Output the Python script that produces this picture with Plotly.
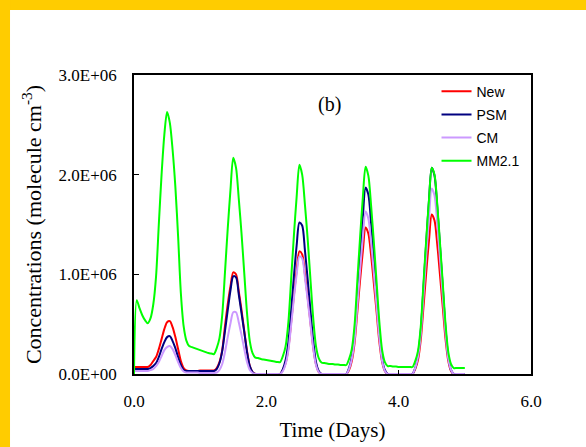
import plotly.graph_objects as go

# Time grid: hourly output over 5 days
hours = list(range(121))
time_days = [h / 24 for h in hours]

# Concentrations in units of 1e6 molecule cm-3
new_e6 = [
    0.07, 0.07, 0.07, 0.07, 0.07, 0.07, 0.09, 0.13, 0.17, 0.25, 0.35, 0.45, 0.52, 0.53, 0.47, 0.37, 0.25, 0.13, 0.06, 0.035, 0.03, 0.03, 0.03, 0.03,
    0.035, 0.035, 0.035, 0.035, 0.035, 0.035, 0.06, 0.12, 0.24, 0.48, 0.70, 0.88, 1.02, 1.00, 0.83, 0.64, 0.43, 0.23, 0.08, 0.02, 0, 0, 0, 0,
    0, 0, 0, 0, 0, 0, 0.04, 0.11, 0.26, 0.52, 0.79, 1.04, 1.23, 1.20, 1.00, 0.77, 0.52, 0.27, 0.10, 0.02, 0, 0, 0, 0,
    0, 0, 0, 0, 0, 0, 0.04, 0.13, 0.31, 0.62, 0.94, 1.23, 1.47, 1.41, 1.19, 0.91, 0.62, 0.32, 0.12, 0.03, 0, 0, 0, 0,
    0, 0, 0, 0, 0, 0, 0.05, 0.14, 0.34, 0.67, 1.02, 1.34, 1.60, 1.54, 1.30, 0.99, 0.67, 0.35, 0.13, 0.03, 0, 0, 0, 0, 0,
]
psm_e6 = [
    0.05, 0.05, 0.05, 0.05, 0.05, 0.05, 0.06, 0.08, 0.11, 0.17, 0.25, 0.32, 0.37, 0.38, 0.33, 0.26, 0.17, 0.09, 0.04, 0.03, 0.03, 0.03, 0.03, 0.03,
    0.03, 0.03, 0.03, 0.03, 0.03, 0.03, 0.05, 0.11, 0.23, 0.43, 0.64, 0.84, 0.98, 0.97, 0.80, 0.61, 0.42, 0.22, 0.08, 0.02, 0, 0, 0, 0,
    0, 0, 0, 0, 0, 0, 0.05, 0.14, 0.32, 0.64, 0.98, 1.29, 1.52, 1.49, 1.24, 0.95, 0.64, 0.34, 0.12, 0.03, 0, 0, 0, 0,
    0, 0, 0, 0, 0, 0, 0.06, 0.17, 0.39, 0.79, 1.20, 1.57, 1.87, 1.80, 1.51, 1.16, 0.79, 0.41, 0.15, 0.04, 0, 0, 0, 0,
    0, 0, 0, 0, 0, 0, 0.06, 0.19, 0.43, 0.87, 1.32, 1.74, 2.07, 1.99, 1.68, 1.28, 0.87, 0.46, 0.17, 0.04, 0, 0, 0, 0, 0,
]
cm_e6 = [
    0.03, 0.03, 0.03, 0.03, 0.03, 0.03, 0.04, 0.05, 0.08, 0.12, 0.18, 0.24, 0.27, 0.28, 0.25, 0.19, 0.12, 0.06, 0.025, 0.015, 0.015, 0.015, 0.015, 0.015,
    0.01, 0.01, 0.01, 0.01, 0.01, 0.01, 0.015, 0.04, 0.10, 0.22, 0.37, 0.51, 0.62, 0.62, 0.52, 0.39, 0.25, 0.12, 0.04, 0.01, 0, 0, 0, 0,
    0, 0, 0, 0, 0, 0, 0.03, 0.10, 0.24, 0.49, 0.76, 1.00, 1.18, 1.16, 0.97, 0.74, 0.50, 0.26, 0.09, 0.02, 0, 0, 0, 0,
    0, 0, 0, 0, 0, 0, 0.05, 0.15, 0.34, 0.68, 1.04, 1.37, 1.63, 1.56, 1.32, 1.01, 0.68, 0.36, 0.13, 0.03, 0, 0, 0, 0,
    0, 0, 0, 0, 0, 0, 0.06, 0.17, 0.39, 0.78, 1.19, 1.56, 1.86, 1.79, 1.51, 1.15, 0.78, 0.41, 0.15, 0.04, 0, 0, 0, 0, 0,
]
mm21_e6 = [
    0.0, 0.74, 0.66, 0.59, 0.54, 0.51, 0.56, 0.70, 0.98, 1.50, 2.00, 2.40, 2.63, 2.52, 2.25, 1.88, 1.38, 0.81, 0.48, 0.335, 0.28, 0.27, 0.26, 0.25,
    0.24, 0.23, 0.22, 0.21, 0.205, 0.20, 0.26, 0.36, 0.59, 1.02, 1.46, 1.85, 2.17, 2.07, 1.76, 1.41, 1.01, 0.61, 0.33, 0.21, 0.165, 0.16, 0.15, 0.145,
    0.14, 0.135, 0.13, 0.125, 0.12, 0.12, 0.18, 0.28, 0.52, 0.95, 1.39, 1.78, 2.10, 2.00, 1.70, 1.35, 0.95, 0.56, 0.28, 0.16, 0.115, 0.11, 0.105, 0.10,
    0.10, 0.095, 0.095, 0.09, 0.09, 0.09, 0.15, 0.25, 0.49, 0.93, 1.37, 1.77, 2.08, 1.99, 1.69, 1.32, 0.92, 0.52, 0.24, 0.12, 0.08, 0.08, 0.075, 0.075,
    0.07, 0.07, 0.07, 0.07, 0.07, 0.07, 0.13, 0.23, 0.47, 0.91, 1.35, 1.75, 2.07, 2.00, 1.70, 1.31, 0.91, 0.50, 0.22, 0.10, 0.06, 0.06, 0.06, 0.06, 0.06,
]

series_names = ["New", "PSM", "CM", "MM2.1"]
series_values = [new_e6, psm_e6, cm_e6, mm21_e6]
series_colors = ["#FF0000", "#000080", "#CC99FF", "#00FF00"]

x_tickvals = [0, 2, 4, 6]
x_ticktext = ["0.0", "2.0", "4.0", "6.0"]
y_tickvals = [0, 1e6, 2e6, 3e6]
y_ticktext = ["0.0E+00", "1.0E+06", "2.0E+06", "3.0E+06"]

fig = go.Figure()
for name, vals, col in zip(series_names, series_values, series_colors):
    fig.add_trace(go.Scatter(
        x=time_days, y=[v * 1e6 for v in vals], name=name, mode="lines",
        line=dict(color=col, width=2, shape="spline", smoothing=0.8),
        legendgroup=name,
    ))

serif = "Liberation Serif, Times New Roman, serif"

fig.update_layout(
    width=586, height=447,
    margin=dict(l=134, r=55, t=75, b=73, autoexpand=False),
    paper_bgcolor="white", plot_bgcolor="white",
    showlegend=True,
    legend=dict(x=0.762, y=0.998, xanchor="left", yanchor="top",
                bgcolor="rgba(0,0,0,0)", traceorder="grouped", tracegroupgap=2,
                font=dict(family="Liberation Sans, Arial, sans-serif", size=14, color="black")),
    xaxis=dict(range=[0, 6], tickvals=x_tickvals, ticktext=x_ticktext, automargin=False,
               ticks="inside", ticklen=4, tickcolor="black", tickwidth=1,
               showline=True, linecolor="black", linewidth=1.5, mirror=True,
               showgrid=False, zeroline=False, ticklabelstandoff=11,
               tickfont=dict(family=serif, size=17, color="black"),
               title=dict(text="Time (Days)", font=dict(family=serif, size=21, color="black"), standoff=12)),
    yaxis=dict(range=[0, 3e6], tickvals=y_tickvals, ticktext=y_ticktext, automargin=False,
               ticks="inside", ticklen=5, tickcolor="black", tickwidth=1,
               showline=True, linecolor="black", linewidth=1.5, mirror=True,
               showgrid=False, zeroline=False, ticklabelstandoff=12,
               tickfont=dict(family=serif, size=17, color="black"),
               title=dict(text="Concentrations (molecule cm<sup>-3</sup>)",
                          font=dict(family=serif, size=22, color="black"), standoff=11)),
    shapes=[
        dict(type="rect", xref="paper", yref="paper", x0=-0.5, x1=1.5, y0=1.2174, y1=1.6,
             fillcolor="#FFCC00", line=dict(width=0), layer="below"),
        dict(type="rect", xref="paper", yref="paper", x0=-0.5, x1=-0.3123, y0=-0.5, y1=1.6,
             fillcolor="#FFCC00", line=dict(width=0), layer="below"),
    ],
    annotations=[
        dict(x=2.96, y=2.70e6, xref="x", yref="y", text="(b)", showarrow=False,
             font=dict(family=serif, size=20, color="black")),
    ],
)

fig.write_html("out.html")
